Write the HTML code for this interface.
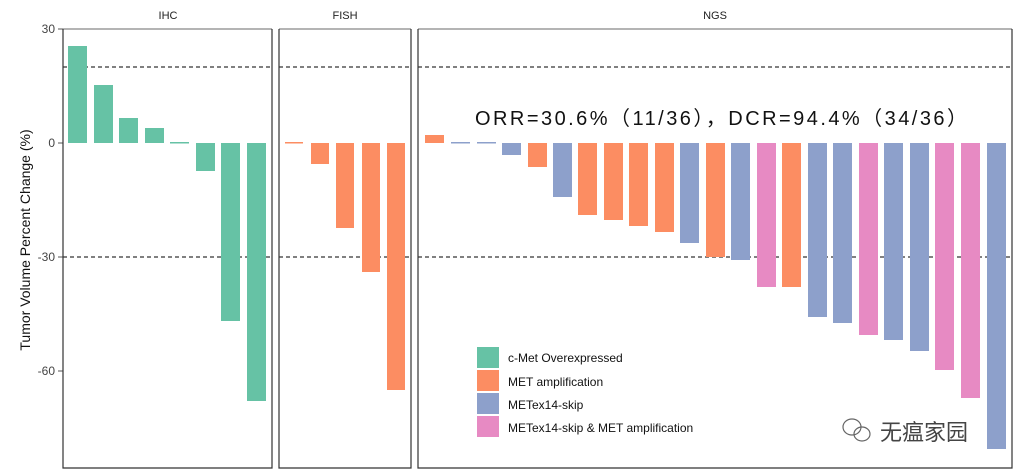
<!DOCTYPE html>
<html><head><meta charset="utf-8"><style>
html,body{margin:0;padding:0;background:#fff;}
svg{display:block;font-family:"Liberation Sans",Arial,sans-serif;}
</style></head><body>
<svg width="1015" height="473" viewBox="0 0 1015 473" xmlns="http://www.w3.org/2000/svg">
<rect width="1015" height="473" fill="#fff"/>
<g font-size="11" fill="#222" text-anchor="middle">
<text x="168" y="19">IHC</text>
<text x="345" y="19">FISH</text>
<text x="715" y="19">NGS</text>
</g>
<g font-size="12" fill="#444" text-anchor="end">
<text x="55" y="33">30</text>
<text x="55" y="147">0</text>
<text x="55" y="261">-30</text>
<text x="55" y="375">-60</text>
</g>
<g stroke="#555" stroke-width="1">
<line x1="58" y1="29" x2="63" y2="29"/><line x1="58" y1="143" x2="63" y2="143"/>
<line x1="58" y1="257" x2="63" y2="257"/><line x1="58" y1="371" x2="63" y2="371"/>
</g>
<text transform="translate(30,240) rotate(-90)" font-size="14" fill="#111" text-anchor="middle">Tumor Volume Percent Change (%)</text>
<g stroke="#000" stroke-width="1" stroke-dasharray="4,3">
<line x1="63" y1="67" x2="272" y2="67"/><line x1="279" y1="67" x2="411" y2="67"/><line x1="418" y1="67" x2="1012" y2="67"/>
<line x1="63" y1="257" x2="272" y2="257"/><line x1="279" y1="257" x2="411" y2="257"/><line x1="418" y1="257" x2="1012" y2="257"/>
</g>
<g fill="#66c2a5">
<rect x="68" y="46" width="19" height="97"/>
<rect x="94" y="85" width="19" height="58"/>
<rect x="119" y="118" width="19" height="25"/>
<rect x="145" y="128" width="19" height="15"/>
<rect x="170" y="142" width="19" height="1.5"/>
<rect x="196" y="143" width="19" height="28"/>
<rect x="221" y="143" width="19" height="178"/>
<rect x="247" y="143" width="19" height="258"/>
</g>
<g fill="#fc8d62">
<rect x="285" y="142" width="18" height="1.5"/>
<rect x="311" y="143" width="18" height="21"/>
<rect x="336" y="143" width="18" height="85"/>
<rect x="362" y="143" width="18" height="129"/>
<rect x="387" y="143" width="18" height="247"/>
</g>
<g>
<rect x="425" y="135" width="19" height="8" fill="#fc8d62"/>
<rect x="451" y="142" width="19" height="1.5" fill="#8da0cb"/>
<rect x="477" y="142" width="19" height="1.5" fill="#8da0cb"/>
<rect x="502" y="143" width="19" height="12" fill="#8da0cb"/>
<rect x="528" y="143" width="19" height="24" fill="#fc8d62"/>
<rect x="553" y="143" width="19" height="54" fill="#8da0cb"/>
<rect x="578" y="143" width="19" height="72" fill="#fc8d62"/>
<rect x="604" y="143" width="19" height="77" fill="#fc8d62"/>
<rect x="629" y="143" width="19" height="83" fill="#fc8d62"/>
<rect x="655" y="143" width="19" height="89" fill="#fc8d62"/>
<rect x="680" y="143" width="19" height="100" fill="#8da0cb"/>
<rect x="706" y="143" width="19" height="114" fill="#fc8d62"/>
<rect x="731" y="143" width="19" height="117" fill="#8da0cb"/>
<rect x="757" y="143" width="19" height="144" fill="#e78ac3"/>
<rect x="782" y="143" width="19" height="144" fill="#fc8d62"/>
<rect x="808" y="143" width="19" height="174" fill="#8da0cb"/>
<rect x="833" y="143" width="19" height="180" fill="#8da0cb"/>
<rect x="859" y="143" width="19" height="192" fill="#e78ac3"/>
<rect x="884" y="143" width="19" height="197" fill="#8da0cb"/>
<rect x="910" y="143" width="19" height="208" fill="#8da0cb"/>
<rect x="935" y="143" width="19" height="227" fill="#e78ac3"/>
<rect x="961" y="143" width="19" height="255" fill="#e78ac3"/>
<rect x="987" y="143" width="19" height="306" fill="#8da0cb"/>
</g>
<g fill="none" stroke-width="1.2">
<path d="M63,29 H272" stroke="#888"/><path d="M63,29 V468 H272 V29" stroke="#333"/>
<path d="M279,29 H411" stroke="#888"/><path d="M279,29 V468 H411 V29" stroke="#333"/>
<path d="M418,29 H1012" stroke="#888"/><path d="M418,29 V468 H1012 V29" stroke="#333"/>
</g>
<text x="475" y="125" font-size="20" fill="#111" textLength="492" lengthAdjust="spacing" font-family="'Liberation Sans','Noto Sans CJK SC',sans-serif">ORR=30.6%（11/36），DCR=94.4%（34/36）</text>
<rect x="477" y="347" width="22" height="21" fill="#66c2a5"/>
<rect x="477" y="370" width="22" height="21" fill="#fc8d62"/>
<rect x="477" y="393" width="22" height="21" fill="#8da0cb"/>
<rect x="477" y="416" width="22" height="21" fill="#e78ac3"/>
<g font-size="12" fill="#111">
<text x="508" y="362">c-Met Overexpressed</text>
<text x="508" y="386">MET amplification</text>
<text x="508" y="409">METex14-skip</text>
<text x="508" y="432">METex14-skip &amp; MET amplification</text>
</g>
<g fill="none" stroke="#666" stroke-width="1.2">
<ellipse cx="852" cy="427" rx="9" ry="8"/>
<ellipse cx="862" cy="434" rx="8" ry="7"/>
</g>
<text x="880" y="440" font-size="22" fill="#444" font-family="'Noto Sans CJK SC',sans-serif">无瘟家园</text>
</svg>
</body></html>
